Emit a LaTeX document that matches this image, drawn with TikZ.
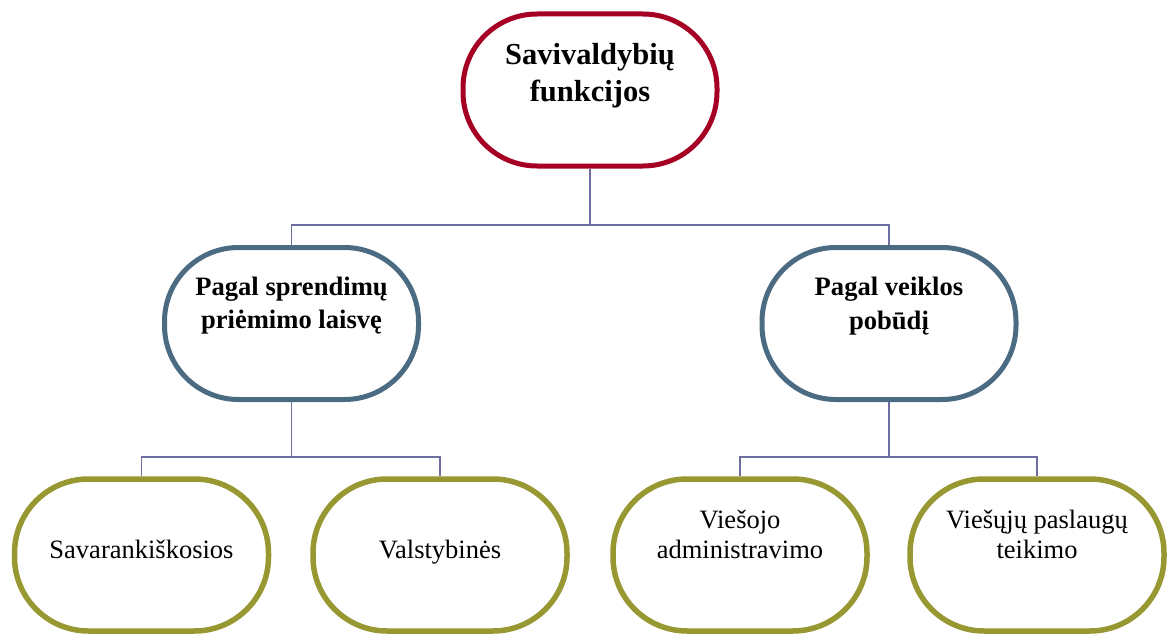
\documentclass[tikz,border=0pt]{standalone}
\usepackage{fontspec}
\setmainfont{Liberation Serif}
\usetikzlibrary{backgrounds}
\definecolor{topred}{RGB}{165,0,36}
\definecolor{midblue}{RGB}{74,107,130}
\definecolor{botolive}{RGB}{152,152,50}
\definecolor{linkc}{RGB}{110,110,162}
\begin{document}
\begin{tikzpicture}[x=1pt,y=-1pt,
  pill/.style={draw,fill=white,rounded corners=74pt,minimum width=254pt,minimum height=152pt,inner sep=0pt},
  topbox/.style={pill,draw=topred,line width=5pt},
  midbox/.style={pill,draw=midblue,line width=5pt},
  botbox/.style={pill,draw=botolive,line width=5.5pt},
  link/.style={draw=linkc,line width=1.8pt},
  ttxt/.style={anchor=base,inner sep=0pt,font=\fontsize{30.5}{36}\selectfont\bfseries},
  mtxt/.style={anchor=base,inner sep=0pt,font=\fontsize{26.6}{33}\selectfont\bfseries},
  btxt/.style={anchor=base,inner sep=0pt,font=\fontsize{26.5}{30}\selectfont}]
\useasboundingbox (0,0) rectangle (1168,634);
% boxes
\node[topbox] (top) at (590,90) {};
\node[midbox] (ml) at (291.5,323.5) {};
\node[midbox] (mr) at (889,323.5) {};
\node[botbox] (b1) at (141.5,555) {};
\node[botbox] (b2) at (440,555) {};
\node[botbox] (b3) at (740,555) {};
\node[botbox] (b4) at (1037,555) {};
% junctions
\coordinate (j0) at (590,225);
\coordinate (jl) at (291.5,457);
\coordinate (jr) at (889,457);
% connectors behind the boxes
\begin{pgfonlayer}{background}
\draw[link] (top.south) -- (j0) -| (ml.north);
\draw[link] (j0) -| (mr.north);
\draw[link] (ml.south) -- (jl) -| (b1.north);
\draw[link] (jl) -| (b2.north);
\draw[link] (mr.south) -- (jr) -| (b3.north);
\draw[link] (jr) -| (b4.north);
\end{pgfonlayer}
% texts
\node[ttxt] (t1) at (590,65) {Savivaldybių};
\node[ttxt] (t2) at (590,102) {funkcijos};
\node[mtxt] (ml1) at (291.5,295) {Pagal sprendimų};
\node[mtxt] (ml2) at (291.5,328) {priėmimo laisvę};
\node[mtxt] (mr1) at (889,295) {Pagal veiklos};
\node[mtxt] (mr2) at (889,329) {pobūdį};
\node[btxt] (b1t) at (141.5,558) {Savarankiškosios};
\node[btxt] (b2t) at (440,558) {Valstybinės};
\node[btxt] (b3a) at (740,528) {Viešojo};
\node[btxt] (b3b) at (740,558) {administravimo};
\node[btxt] (b4a) at (1037,528) {Viešųjų paslaugų};
\node[btxt] (b4b) at (1037,558) {teikimo};
\end{tikzpicture}
\end{document}
